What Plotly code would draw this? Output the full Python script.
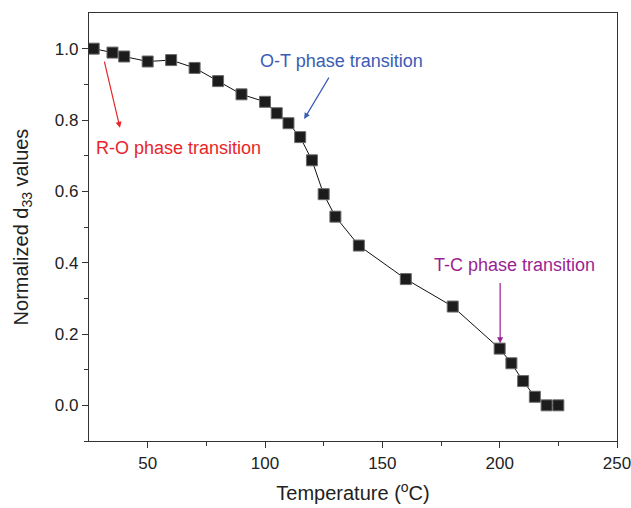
import plotly.graph_objects as go

# Temperature dependence of the normalized d33 coefficient
temperature = [27, 35, 40, 50, 60, 70, 80, 90, 100, 105, 110, 115, 120,
               125, 130, 140, 160, 180, 200, 205, 210, 215, 220, 225]
d33_norm = [1.0, 0.989, 0.978, 0.964, 0.968, 0.946, 0.909, 0.872, 0.851,
            0.819, 0.791, 0.752, 0.687, 0.592, 0.529, 0.448, 0.354, 0.277,
            0.159, 0.118, 0.068, 0.024, 0.0, 0.0]

x_ticks = [50, 100, 150, 200, 250]
y_ticks = [0.0, 0.2, 0.4, 0.6, 0.8, 1.0]

font_family = "Liberation Sans, Arial, sans-serif"
axis_color = "#333333"

fig = go.Figure()
fig.add_trace(go.Scatter(
    x=temperature, y=d33_norm, mode="lines+markers",
    line=dict(color="#111111", width=1),
    marker=dict(symbol="square", size=11, color="#1c1c1c",
                line=dict(color="#6a6a6a", width=1)),
    showlegend=False,
))

# Phase-transition labels with arrows (tail at ax/ay, head at x/y)
transitions = [
    dict(text="R-O phase transition", color="#e8262a",
         tx=63.2, ty=0.721, ax=31.4, ay=0.968, hx=38.2, hy=0.778),
    dict(text="O-T phase transition", color="#3b5cb4",
         tx=132.7, ty=0.966, ax=127.6, ay=0.923, hx=116.7, hy=0.803),
    dict(text="T-C phase transition", color="#9a1f92",
         tx=206.2, ty=0.393, ax=200.2, ay=0.347, hx=200.2, hy=0.174),
]
for t in transitions:
    fig.add_annotation(x=t["tx"], y=t["ty"], text=t["text"], showarrow=False,
                       font=dict(family=font_family, size=18, color=t["color"]))
    fig.add_annotation(x=t["hx"], y=t["hy"], ax=t["ax"], ay=t["ay"],
                       axref="x", ayref="y", text="", showarrow=True,
                       arrowhead=2, arrowsize=1, arrowwidth=1.2,
                       arrowcolor=t["color"])

fig.update_layout(
    width=631, height=508,
    margin=dict(l=89, r=14, t=13, b=67),
    paper_bgcolor="white", plot_bgcolor="white",
    font=dict(family=font_family, size=17, color="#222222"),
)
fig.update_xaxes(
    range=[25, 250], tickvals=x_ticks, ticks="outside", ticklen=6,
    tickwidth=1.2, tickcolor=axis_color, automargin=False,
    ticklabeloverflow="allow",
    minor=dict(tickvals=[75, 125, 175, 225], ticks="outside", ticklen=4,
               tickwidth=1.2, tickcolor=axis_color),
    showline=True, linecolor=axis_color, linewidth=1.3, mirror=True,
    showgrid=False, zeroline=False,
    tickfont=dict(size=17),
    title=dict(text="Temperature (<sup>o</sup>C)", font=dict(size=20),
               standoff=14),
)
fig.update_yaxes(
    range=[-0.1, 1.1], tickvals=y_ticks, tickformat=".1f",
    ticks="outside", ticklen=6, tickwidth=1.2, tickcolor=axis_color,
    automargin=False,
    minor=dict(tickvals=[-0.1, 0.1, 0.3, 0.5, 0.7, 0.9], ticks="outside",
               ticklen=4, tickwidth=1.2, tickcolor=axis_color),
    showline=True, linecolor=axis_color, linewidth=1.3, mirror=True,
    showgrid=False, zeroline=False,
    tickfont=dict(size=17),
    title=dict(text="Normalized d<sub>33</sub> values", font=dict(size=20),
               standoff=20),
)

fig.write_html("out.html")
